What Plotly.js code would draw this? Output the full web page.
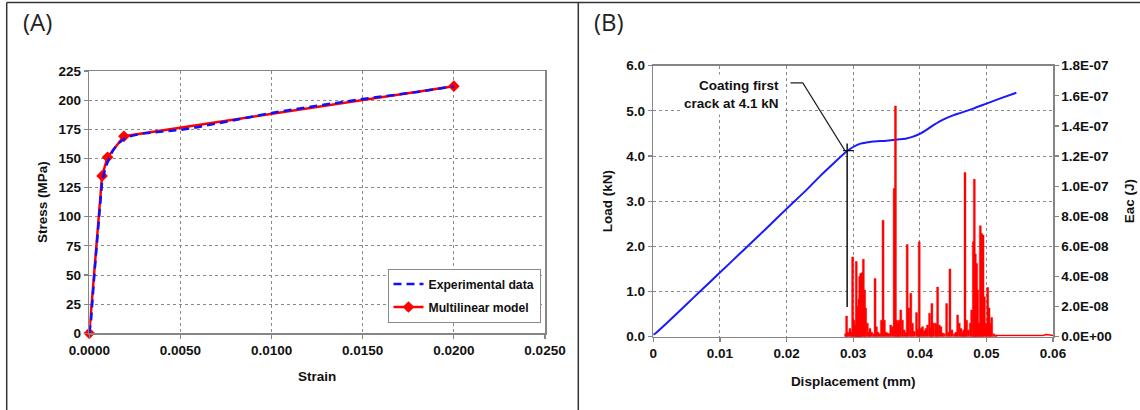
<!DOCTYPE html>
<html>
<head>
<meta charset="utf-8">
<script src="https://cdn.plot.ly/plotly-3.0.1.min.js"></script>
<style>
  html, body { margin: 0; padding: 0; background: #fff; }
  #chart { width: 1140px; height: 410px; }
</style>
</head>
<body>
<div id="chart"></div>
<script>
// (A) Tensile curve: measured stress-strain and its multilinear fit
const strainExp = [0, 0.0001, 0.0003, 0.0005, 0.0007, 0.0009, 0.0011, 0.0013, 0.0016, 0.0020, 0.0025, 0.0030, 0.0040, 0.0050, 0.0060, 0.0080, 0.0100, 0.0120, 0.0150, 0.0180, 0.0200];
const stressExp = [0, 12, 55, 95, 130, 143, 150, 157, 163, 168, 170, 171.5, 173, 174.5, 177, 183, 189, 194, 201, 207, 212];

const strainModel = [0, 0.0007, 0.0010, 0.0019, 0.0200];
const stressModel = [0, 135, 151, 169, 212];

// (B) Load-displacement curve with acoustic emission energy
const dispLoad = [0, 0.0002, 0.002, 0.005, 0.007, 0.010, 0.013, 0.014, 0.017, 0.020, 0.023, 0.025, 0.027, 0.029, 0.030, 0.031, 0.032, 0.033, 0.035, 0.037, 0.038, 0.039, 0.040, 0.041, 0.042, 0.043, 0.044, 0.045, 0.046, 0.048, 0.050, 0.052, 0.0545];
const loadKN   = [0.05, 0.06, 0.30, 0.72, 1.00, 1.42, 1.84, 1.98, 2.40, 2.83, 3.25, 3.55, 3.83, 4.10, 4.20, 4.27, 4.30, 4.32, 4.34, 4.37, 4.39, 4.43, 4.49, 4.58, 4.68, 4.77, 4.84, 4.90, 4.95, 5.05, 5.16, 5.27, 5.40];

const dispEac = [0.02887, 0.02902, 0.02922, 0.02952, 0.02972, 0.02992, 0.03012, 0.03032, 0.03047, 0.03063, 0.03073, 0.03088, 0.03098, 0.03113, 0.03133, 0.03153, 0.03173, 0.03188, 0.03213, 0.03238, 0.03253, 0.03278, 0.03303, 0.03329, 0.03349, 0.03374, 0.03399, 0.03424, 0.03449, 0.03469, 0.03494, 0.03514, 0.03539, 0.03564, 0.03590, 0.03615, 0.03635, 0.03655, 0.03675, 0.03690, 0.03715, 0.03740, 0.03765, 0.03791, 0.03811, 0.03836, 0.03866, 0.03891, 0.03916, 0.03951, 0.03971, 0.03992, 0.04017, 0.04042, 0.04067, 0.04092, 0.04117, 0.04147, 0.04167, 0.04182, 0.04202, 0.04233, 0.04253, 0.04268, 0.04293, 0.04318, 0.04343, 0.04368, 0.04403, 0.04428, 0.04453, 0.04483, 0.04518, 0.04543, 0.04568, 0.04593, 0.04618, 0.04644, 0.04659, 0.04679, 0.04704, 0.04729, 0.04759, 0.04779, 0.04804, 0.04819, 0.04834, 0.04854, 0.04869, 0.04889, 0.04909, 0.04929, 0.04950, 0.04970, 0.04995, 0.05020, 0.05040, 0.05060, 0.05080, 0.05110, 0.05145];
const eacJ = [0.2e-8, 1.37e-8, 0.3e-8, 0.55e-8, 0.3e-8, 5.3e-8, 1.1e-8, 0.8e-8, 5.0e-8, 1.5e-8, 2.0e-8, 2.5e-8, 4.0e-8, 4.2e-8, 4.25e-8, 5.15e-8, 3.1e-8, 1.9e-8, 0.9e-8, 0.3e-8, 0.55e-8, 0.3e-8, 0.2e-8, 3.87e-8, 0.66e-8, 0.3e-8, 0.2e-8, 1.1e-8, 7.74e-8, 1.1e-8, 0.3e-8, 0.25e-8, 0.2e-8, 0.77e-8, 0.66e-8, 9.85e-8, 15.33e-8, 1.1e-8, 0.9e-8, 1.1e-8, 1.77e-8, 1.1e-8, 0.45e-8, 0.3e-8, 6.13e-8, 1.9e-8, 2.88e-8, 0.9e-8, 0.35e-8, 1.6e-8, 0.5e-8, 6.3e-8, 0.55e-8, 0.66e-8, 0.4e-8, 0.55e-8, 0.77e-8, 1.55e-8, 0.6e-8, 2.2e-8, 0.9e-8, 0.9e-8, 0.8e-8, 3.3e-8, 0.77e-8, 0.66e-8, 0.25e-8, 0.2e-8, 2.2e-8, 0.3e-8, 4.5e-8, 0.45e-8, 0.2e-8, 0.3e-8, 1.44e-8, 0.9e-8, 0.55e-8, 0.3e-8, 0.45e-8, 10.9e-8, 1.1e-8, 0.45e-8, 0.9e-8, 1.77e-8, 6.3e-8, 10.46e-8, 5.5e-8, 4.87e-8, 3.1e-8, 0.9e-8, 7.37e-8, 6.86e-8, 6.75e-8, 2.65e-8, 0.9e-8, 3.27e-8, 1.9e-8, 0.9e-8, 1.28e-8, 0.2e-8, 0.1e-8];

// quiet tail of the acoustic record after the last burst
const dispEacTail = [0.0512, 0.0585, 0.0590, 0.0600];
const eacJTail    = [0.08e-8, 0.08e-8, 0.14e-8, 0.08e-8];

// first coating crack
const crackDisp = 0.0291;
const crackLoad = 4.1;

const eacTickVals = [0, 2e-8, 4e-8, 6e-8, 8e-8, 1e-7, 1.2e-7, 1.4e-7, 1.6e-7, 1.8e-7];
const eacTickText = ['0.0E+00', '2.0E-08', '4.0E-08', '6.0E-08', '8.0E-08', '1.0E-07', '1.2E-07', '1.4E-07', '1.6E-07', '1.8E-07'];

const W = 1140, H = 410;
const px = v => v / W;          // horizontal pixel -> paper
const py = v => 1 - v / H;      // vertical pixel -> paper

const boldFont = { family: 'Liberation Sans, Arial, sans-serif', size: 13.5, color: '#111', weight: 'bold' };
const panelFont = { family: 'Open Sans, sans-serif', size: 24, color: '#222', weight: 'normal' };
const gridGray = '#8a8a8a';
const axisGray = '#858585';

const axisCommon = {
  showline: true, linecolor: axisGray, linewidth: 1.5, mirror: true,
  showgrid: true, gridcolor: gridGray, griddash: 'dot', gridwidth: 1,
  ticks: 'outside', ticklen: 4, tickcolor: axisGray, tickwidth: 1.2,
  tickfont: boldFont, zeroline: false, fixedrange: true
};

const traces = [
  {
    x: strainModel, y: stressModel, xaxis: 'x', yaxis: 'y',
    name: 'Multilinear model', mode: 'lines+markers', cliponaxis: false,
    line: { color: '#ff0000', width: 2.5 },
    marker: { symbol: 'diamond', size: 9, color: '#ff0000' },
    legendrank: 2, legendgroup: 'model'
  },
  {
    x: strainExp, y: stressExp, xaxis: 'x', yaxis: 'y',
    name: 'Experimental data', mode: 'lines', cliponaxis: false,
    line: { color: '#1010ff', width: 2.5, dash: '8px,5px' },
    legendrank: 1, legendgroup: 'exp'
  },
  {
    x: dispLoad, y: loadKN, xaxis: 'x2', yaxis: 'y2',
    mode: 'lines', line: { color: '#1a1aff', width: 2, shape: 'spline', smoothing: 0.6 },
    showlegend: false
  },
  {
    x: dispEac, y: eacJ, xaxis: 'x2', yaxis: 'y3', type: 'bar',
    width: 0.0003, marker: { color: '#ff0000', line: { width: 0.4, color: '#ff0000' } },
    showlegend: false
  },
  {
    x: dispEacTail, y: eacJTail, xaxis: 'x2', yaxis: 'y3',
    mode: 'lines', line: { color: '#ff0000', width: 1.5 },
    showlegend: false
  }
];

const layout = {
  width: W, height: H,
  margin: { l: 0, r: 0, t: 0, b: 0 },
  paper_bgcolor: '#fff', plot_bgcolor: '#fff',
  font: boldFont,
  showlegend: true,
  legend: {
    x: px(387.5), y: py(268.5), xanchor: 'left', yanchor: 'top',
    bgcolor: '#fff', bordercolor: '#8a8a8a', borderwidth: 1,
    font: { family: 'Liberation Sans, Arial, sans-serif', size: 12.2, color: '#111', weight: 'bold' },
    traceorder: 'grouped', tracegroupgap: 4, itemwidth: 30
  },
  xaxis: Object.assign({}, axisCommon, {
    domain: [px(89.3), px(545)], anchor: 'y',
    range: [0, 0.025], dtick: 0.005, tick0: 0, tickformat: '.4f',
    title: { text: 'Strain', font: boldFont, standoff: 14 }
  }),
  yaxis: Object.assign({}, axisCommon, {
    domain: [py(333.3), py(71)], anchor: 'x',
    range: [0, 225], dtick: 25, tick0: 0,
    title: { text: 'Stress (MPa)', font: boldFont, standoff: 8 }
  }),
  xaxis2: Object.assign({}, axisCommon, {
    domain: [px(653.3), px(1053)], anchor: 'y2',
    range: [0, 0.06], dtick: 0.01, tick0: 0,
    title: { text: 'Displacement (mm)', font: boldFont, standoff: 16 }
  }),
  yaxis2: Object.assign({}, axisCommon, {
    domain: [py(336.7), py(65.7)], anchor: 'x2',
    range: [0, 6], dtick: 1, tick0: 0, tickformat: '.1f',
    title: { text: 'Load (kN)', font: boldFont, standoff: 10 }
  }),
  yaxis3: {
    overlaying: 'y2', side: 'right', anchor: 'x2',
    range: [0, 1.8e-7], tickvals: eacTickVals, ticktext: eacTickText,
    showline: true, linecolor: axisGray, linewidth: 1.5,
    showgrid: false, zeroline: false, fixedrange: true,
    ticks: 'outside', ticklen: 4, tickcolor: axisGray, tickwidth: 1.2,
    tickfont: boldFont,
    title: { text: 'Eac (J)', font: boldFont, standoff: 13 }
  },
  bargap: 0,
  shapes: [
    // page frame and panel divider
    { type: 'line', xref: 'paper', yref: 'paper', x0: px(6.7), x1: px(6.7), y0: 0, y1: py(2.5), line: { color: '#333', width: 1.5 } },
    { type: 'line', xref: 'paper', yref: 'paper', x0: px(6.7), x1: 1, y0: py(2.5), y1: py(2.5), line: { color: '#333', width: 1.5 } },
    { type: 'line', xref: 'paper', yref: 'paper', x0: px(578.3), x1: px(578.3), y0: 0, y1: py(2.5), line: { color: '#333', width: 1.5 } },
    // leader from the callout to the crack point
    { type: 'path', xref: 'x2', yref: 'y2',
      path: 'M 0.02059 5.62 L 0.02244 5.62 L 0.02872 4.13',
      line: { color: '#222', width: 1.2 } },
    // crack marker: vertical drop line and short horizontal tick
    { type: 'line', xref: 'x2', yref: 'y2', x0: crackDisp, x1: crackDisp, y0: 0.66, y1: 4.28, line: { color: '#111', width: 1.5 } },
    { type: 'line', xref: 'x2', yref: 'y2', x0: crackDisp - 0.0006, x1: crackDisp + 0.001, y0: crackLoad + 0.02, y1: crackLoad + 0.02, line: { color: '#111', width: 1.2 } }
  ],
  annotations: [
    { text: '(A)', xref: 'paper', yref: 'paper', x: px(21), y: py(21.5), xanchor: 'left', yanchor: 'middle',
      showarrow: false, font: panelFont },
    { text: '(B)', xref: 'paper', yref: 'paper', x: px(591.5), y: py(21.5), xanchor: 'left', yanchor: 'middle',
      showarrow: false, font: panelFont },
    { text: 'Coating first<br>crack at 4.1 kN', xref: 'x2', yref: 'y2', x: 0.0194, y: 5.365,
      xanchor: 'right', yanchor: 'middle', align: 'right', showarrow: false,
      bgcolor: '#fff', borderpad: 3, font: boldFont }
  ]
};

Plotly.newPlot('chart', traces, layout, { staticPlot: true, displayModeBar: false });
</script>
</body>
</html>
